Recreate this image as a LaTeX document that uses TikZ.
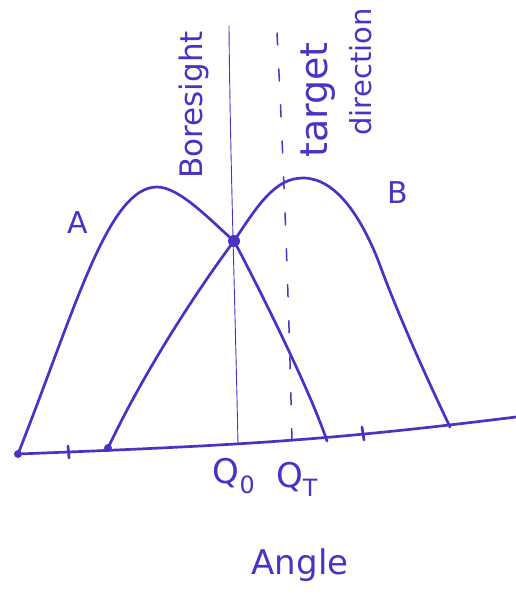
\documentclass[tikz,border=0pt]{standalone}
\usepackage{fontspec}
\setmainfont{DejaVu Sans}
\definecolor{ink}{RGB}{72,52,196}
\tikzset{
  pen/.style={draw=ink, line width=2.7pt, line cap=round, line join=round},
  thinpen/.style={draw=ink, line width=0.9pt, line cap=round},
  lbl/.style={text=ink, inner sep=0pt},
  dotmark/.style={fill=ink, circle, inner sep=0pt, minimum size=8pt},
}
\newcommand{\fs}[1]{\fontsize{#1}{#1}\selectfont}
\begin{document}
\begin{tikzpicture}[x=1pt,y=-1pt]
\useasboundingbox (0,0) rectangle (516,600);
% key coordinates
\coordinate (o) at (18,454);
\coordinate (b0) at (108,448);
\coordinate (x) at (234,241);
\coordinate (apk) at (157,187);
\coordinate (bpk) at (303,178);
\coordinate (bmid) at (378,260);
\coordinate (aend) at (327,441);
\coordinate (bend) at (450,427);
\coordinate (axend) at (516,417);
\coordinate (bsTop) at (229,26);
\coordinate (bsBot) at (238,444);
\coordinate (tdTop) at (277,33);
\coordinate (tdBot) at (292,443);
% baseline
\draw[pen] (o) .. controls (250,445) and (330,440) .. (axend);
% ticks
\draw[pen] (68,446) -- (69,458);
\draw[pen] (362,427) -- (364,440);
% boresight
\draw[thinpen] (bsTop) .. controls (230,150) and (235,300) .. (bsBot);
% target direction
\draw[thinpen, line width=1.5pt, dash pattern=on 12pt off 24pt] (tdTop) .. controls (283,150) and (289,300) .. (tdBot);
% curve A
\draw[pen] (o) .. controls (75,310) and (108,187) .. (apk)
  .. controls (180,187) and (212,222) .. (x)
  .. controls (256,282) and (310,390) .. (aend);
% curve B
\draw[pen] (b0) .. controls (140,380) and (190,300) .. (x)
  .. controls (258,205) and (275,178) .. (bpk)
  .. controls (335,178) and (360,215) .. (bmid)
  .. controls (400,320) and (430,385) .. (bend);
% dots
\node[dotmark] (d1) at (o) {};
\node[dotmark] (d2) at (b0) {};
\node[dotmark, minimum size=12pt] (d3) at (x) {};
% labels
\node[lbl, rotate=90, font=\fs{31}] (bore) at (194,105) {Boresight};
\node[lbl, rotate=90, font=\fs{38}] (tgt) at (318,100) {target};
\node[lbl, rotate=90, font=\fs{29}] (dir) at (361,72) {direction};
\node[lbl, font=\fs{30}] (la) at (78,223) {A};
\node[lbl, font=\fs{30}] (lb) at (398,193) {B};
\node[lbl, font=\fs{34}] (q0) at (234,476) {Q\textsubscript{0}};
\node[lbl, font=\fs{34}] (qt) at (297,479) {Q\textsubscript{T}};
\node[lbl, font=\fs{34}] (ang) at (300,565) {Angle};
\end{tikzpicture}
\end{document}
